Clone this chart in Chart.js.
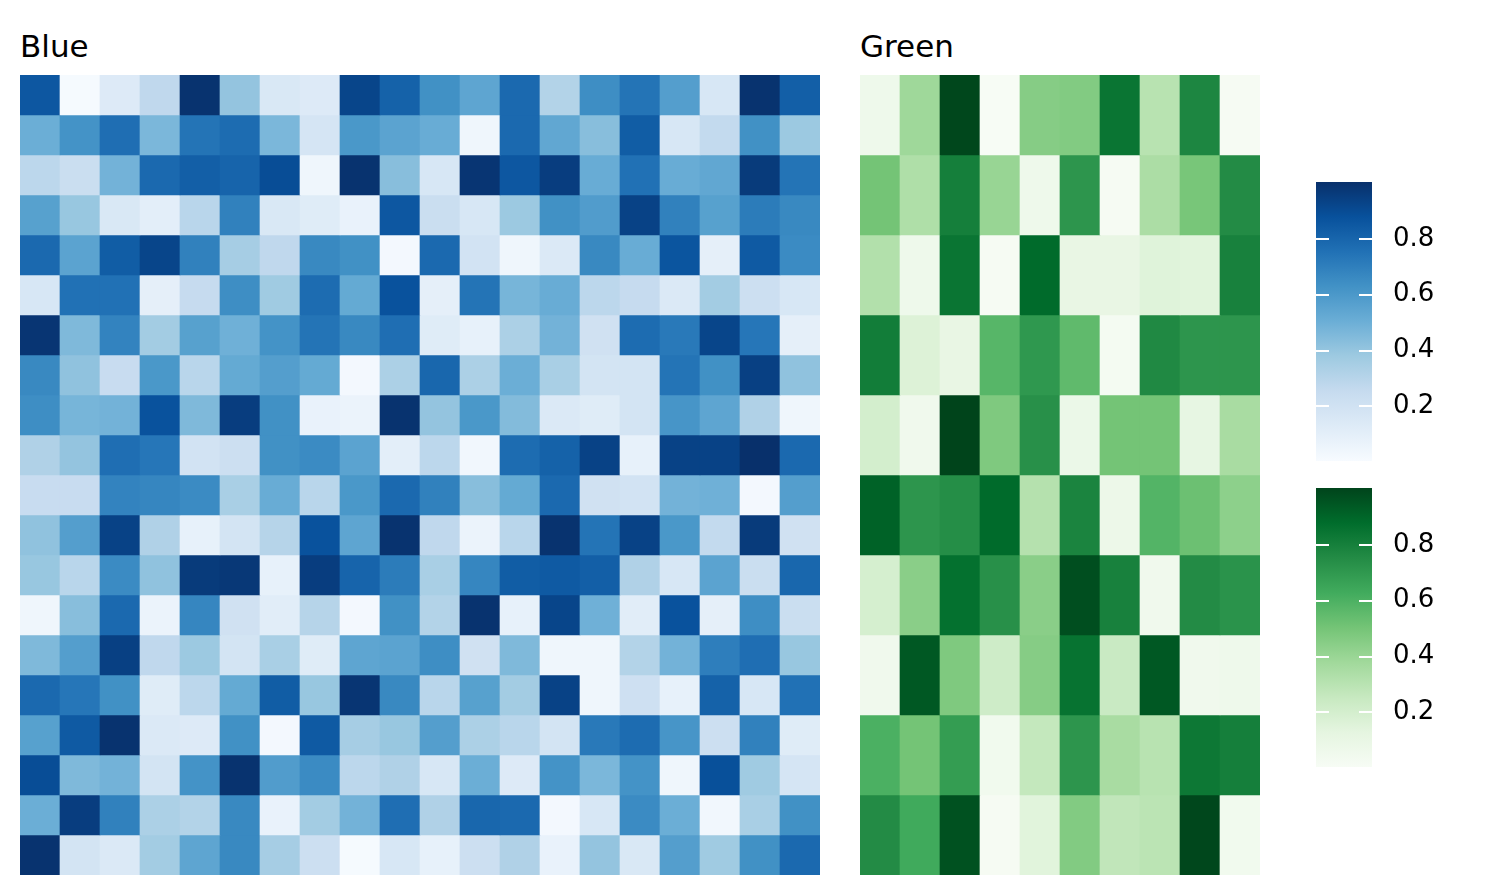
<!DOCTYPE html>
<html><head><meta charset="utf-8">
<script src="https://cdn.jsdelivr.net/npm/chart.js@4"></script>
<style>
html,body{margin:0;padding:0;background:#fff;}
body{width:1512px;height:895px;overflow:hidden;position:relative;font-family:"DejaVu Sans";}
.t{position:absolute;font-family:"DejaVu Sans";font-size:31px;line-height:31px;color:#000;white-space:nowrap;}
canvas{position:absolute;display:block;}
</style></head><body>
<div class="t" id="t1" style="left:20px;top:31px;"></div>
<div class="t" id="t2" style="left:860px;top:31px;"></div>
<canvas id="hBlue" width="800" height="800" style="left:20px;top:75px;"></canvas>
<canvas id="hGreen" width="400" height="800" style="left:860px;top:75px;"></canvas>
<canvas id="cbBlue" width="136" height="279" style="left:1316px;top:182px;"></canvas>
<canvas id="cbGreen" width="136" height="279" style="left:1316px;top:488px;"></canvas>
<script>
// ---------- DATA ----------
const titles = ["Blue", "Green"];
const colorbarTicks = [0.2, 0.4, 0.6, 0.8];

const blueValues = [
  [0.85,0.01,0.13,0.27,0.99,0.40,0.15,0.13,0.92,0.81, 0.63,0.54,0.78,0.31,0.64,0.74,0.57,0.16,0.99,0.82],
  [0.50,0.62,0.76,0.46,0.74,0.77,0.46,0.17,0.60,0.55, 0.51,0.04,0.78,0.53,0.43,0.83,0.16,0.26,0.63,0.38],
  [0.28,0.23,0.48,0.78,0.82,0.80,0.89,0.04,0.99,0.43, 0.16,0.98,0.85,0.95,0.51,0.75,0.51,0.53,0.96,0.74],
  [0.56,0.39,0.15,0.10,0.29,0.69,0.15,0.12,0.07,0.85, 0.23,0.16,0.38,0.63,0.58,0.93,0.69,0.56,0.71,0.66],
  [0.78,0.55,0.83,0.92,0.69,0.35,0.27,0.66,0.63,0.02, 0.78,0.19,0.04,0.14,0.66,0.51,0.86,0.09,0.84,0.65],
  [0.16,0.75,0.75,0.09,0.25,0.64,0.37,0.77,0.52,0.87, 0.09,0.74,0.47,0.51,0.28,0.25,0.14,0.36,0.22,0.16],
  [0.98,0.45,0.68,0.36,0.56,0.49,0.62,0.74,0.66,0.76, 0.12,0.08,0.33,0.48,0.20,0.77,0.72,0.92,0.73,0.09],
  [0.66,0.41,0.24,0.60,0.29,0.52,0.57,0.52,0.02,0.33, 0.79,0.33,0.50,0.34,0.18,0.18,0.74,0.63,0.94,0.41],
  [0.64,0.47,0.48,0.87,0.45,0.95,0.63,0.07,0.06,0.99, 0.40,0.60,0.44,0.14,0.12,0.18,0.61,0.54,0.32,0.04],
  [0.32,0.40,0.76,0.73,0.19,0.22,0.63,0.65,0.55,0.10, 0.28,0.03,0.77,0.81,0.93,0.08,0.93,0.93,1.00,0.78],
  [0.24,0.24,0.68,0.67,0.65,0.34,0.51,0.29,0.60,0.78, 0.69,0.43,0.52,0.78,0.20,0.19,0.48,0.49,0.02,0.57],
  [0.41,0.57,0.93,0.32,0.08,0.18,0.30,0.87,0.54,0.99, 0.27,0.06,0.29,0.99,0.74,0.93,0.60,0.26,0.96,0.20],
  [0.39,0.29,0.65,0.41,0.96,0.97,0.08,0.95,0.80,0.71, 0.34,0.67,0.83,0.84,0.82,0.32,0.16,0.55,0.23,0.79],
  [0.04,0.43,0.78,0.06,0.67,0.20,0.11,0.30,0.02,0.63, 0.31,0.99,0.08,0.92,0.49,0.11,0.87,0.09,0.64,0.23],
  [0.45,0.57,0.94,0.27,0.38,0.18,0.34,0.12,0.54,0.55, 0.64,0.20,0.45,0.04,0.04,0.31,0.48,0.70,0.76,0.39],
  [0.78,0.73,0.63,0.12,0.28,0.52,0.83,0.39,0.98,0.66, 0.29,0.56,0.36,0.93,0.04,0.21,0.08,0.81,0.16,0.75],
  [0.56,0.84,0.99,0.14,0.13,0.63,0.02,0.84,0.35,0.39, 0.57,0.33,0.29,0.18,0.72,0.77,0.61,0.22,0.69,0.12],
  [0.89,0.45,0.48,0.18,0.62,0.99,0.58,0.65,0.28,0.32, 0.16,0.50,0.13,0.62,0.46,0.62,0.04,0.88,0.37,0.17],
  [0.50,0.95,0.69,0.33,0.31,0.66,0.07,0.36,0.48,0.76, 0.32,0.79,0.78,0.02,0.16,0.65,0.50,0.03,0.34,0.63],
  [0.99,0.18,0.14,0.36,0.54,0.66,0.35,0.22,0.01,0.16, 0.08,0.22,0.32,0.07,0.40,0.15,0.57,0.37,0.63,0.78]
];

const greenValues = [
  [0.06,0.38,0.99,0.00,0.45,0.46,0.84,0.30,0.77,0.01],
  [0.50,0.33,0.80,0.40,0.06,0.71,0.01,0.34,0.49,0.75],
  [0.32,0.06,0.84,0.01,0.88,0.10,0.10,0.15,0.14,0.79],
  [0.81,0.16,0.10,0.57,0.70,0.55,0.02,0.76,0.71,0.71],
  [0.20,0.05,1.00,0.47,0.73,0.08,0.50,0.50,0.11,0.35],
  [0.91,0.71,0.74,0.88,0.31,0.78,0.07,0.58,0.52,0.43],
  [0.19,0.44,0.86,0.73,0.44,0.97,0.79,0.05,0.75,0.72],
  [0.05,0.94,0.47,0.22,0.45,0.85,0.24,0.94,0.05,0.06],
  [0.60,0.50,0.68,0.04,0.26,0.71,0.35,0.30,0.83,0.80],
  [0.75,0.63,0.96,0.01,0.14,0.46,0.27,0.29,0.99,0.04]
];

// ColorBrewer stops (matplotlib Blues / Greens)
const bluesStops  = ["#f7fbff","#deebf7","#c6dbef","#9ecae1","#6baed6","#4292c6","#2171b5","#08519c","#08306b"];
const greensStops = ["#f7fcf5","#e5f5e0","#c7e9c0","#a1d99b","#74c476","#41ab5d","#238b45","#006d2c","#00441b"];
const vRange = [0, 1];
const cbRange = [0.004, 1.004];

// ---------- HELPERS ----------
function hexToRgb(h){ return [parseInt(h.slice(1,3),16),parseInt(h.slice(3,5),16),parseInt(h.slice(5,7),16)]; }
function makeCmap(stops){
  const rgb = stops.map(hexToRgb);
  return function(t){
    t = Math.max(0, Math.min(1, t));
    const p = t*(rgb.length-1);
    const i = Math.min(rgb.length-2, Math.floor(p));
    const f = p - i;
    const c = rgb[i].map((v,k)=>Math.round(v + (rgb[i+1][k]-v)*f));
    return `rgb(${c[0]},${c[1]},${c[2]})`;
  };
}

function heatmap(id, values, stops){
  const cmap = makeCmap(stops);
  const nRows = values.length, nCols = values[0].length;
  const labels = Array.from({length:nCols}, (_, i) => String(i));
  const datasets = values.map((row, r) => ({
    data: row.map(() => [r, r + 1]),
    backgroundColor: row.map(v => cmap((v - vRange[0]) / (vRange[1] - vRange[0]))),
    borderWidth: 0,
    borderSkipped: false,
    barPercentage: 1,
    categoryPercentage: 1,
    grouped: false
  }));
  new Chart(document.getElementById(id), {
    type: 'bar',
    data: { labels, datasets },
    options: {
      responsive: false, maintainAspectRatio: false, animation: false,
      layout: { padding: 0 },
      plugins: { legend: { display: false }, tooltip: { enabled: false }, title: { display: false } },
      scales: {
        x: { display: false, offset: true },
        y: { display: false, min: 0, max: nRows, reverse: true }
      }
    }
  });
}

const tickMarks = {
  id: 'tickMarks',
  afterDatasetsDraw(chart){
    const ca = chart.chartArea, sc = chart.scales.y, ctx = chart.ctx;
    ctx.save();
    ctx.strokeStyle = '#ffffff';
    ctx.lineWidth = 2;
    colorbarTicks.forEach(v => {
      const y = Math.round(sc.getPixelForValue(v));
      ctx.beginPath();
      ctx.moveTo(ca.left, y); ctx.lineTo(ca.left + 13, y);
      ctx.moveTo(ca.right - 13, y); ctx.lineTo(ca.right, y);
      ctx.stroke();
    });
    ctx.restore();
  }
};

function colorbar(id, stops){
  new Chart(document.getElementById(id), {
    type: 'bar',
    data: { labels: [''], datasets: [{
      data: [[cbRange[0], cbRange[1]]],
      backgroundColor: (c) => {
        const ca = c.chart.chartArea;
        if (!ca) return stops[0];
        const g = c.chart.ctx.createLinearGradient(0, ca.bottom, 0, ca.top);
        stops.forEach((s, i) => g.addColorStop(i / (stops.length - 1), s));
        return g;
      },
      borderWidth: 0, borderSkipped: false,
      barPercentage: 1, categoryPercentage: 1
    }]},
    options: {
      responsive: false, maintainAspectRatio: false, animation: false,
      layout: { padding: 0 },
      plugins: { legend: { display: false }, tooltip: { enabled: false } },
      scales: {
        x: { display: false },
        y: {
          position: 'right', min: cbRange[0], max: cbRange[1],
          afterFit(s){ s.width = 80; s.paddingTop = 0; s.paddingBottom = 0; },
          afterBuildTicks(s){ s.ticks = colorbarTicks.map(v => ({ value: v })); },
          grid: { display: false, drawTicks: false },
          border: { display: false },
          ticks: { padding: 21, color: '#000', font: { family: 'DejaVu Sans', size: 26 },
                   callback: v => Number(v).toFixed(1) }
        }
      }
    },
    plugins: [tickMarks]
  });
}

document.getElementById('t1').textContent = titles[0];
document.getElementById('t2').textContent = titles[1];
heatmap('hBlue', blueValues, bluesStops);
heatmap('hGreen', greenValues, greensStops);
colorbar('cbBlue', bluesStops);
colorbar('cbGreen', greensStops);
</script>
</body></html>
